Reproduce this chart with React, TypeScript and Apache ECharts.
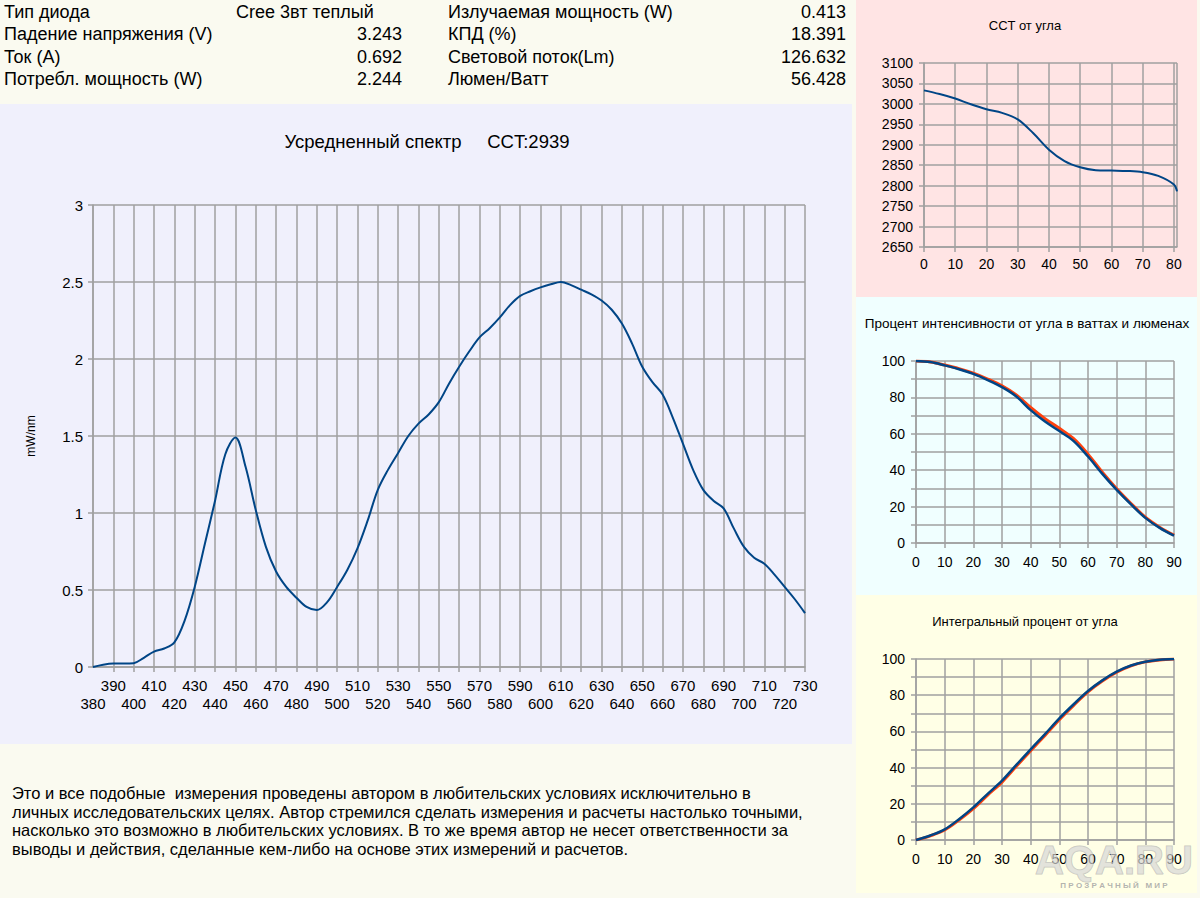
import React, { useEffect, useRef } from "react";
import * as echarts from "echarts";

// ---------- data ----------
const wavelengths = [
  380, 385, 390, 395, 400, 405, 410, 415, 420, 425, 430, 435, 440, 445, 450, 455, 460, 465, 470, 475,
  480, 485, 490, 495, 500, 505, 510, 515, 520, 525, 530, 535, 540, 545, 550, 555, 560, 565, 570, 575,
  580, 585, 590, 595, 600, 605, 610, 615, 620, 625, 630, 635, 640, 645, 650, 655, 660, 665, 670, 675,
  680, 685, 690, 695, 700, 705, 710, 715, 720, 725, 730,
];
const spectrum = [
  0.0, 0.015, 0.022, 0.022, 0.025, 0.06, 0.1, 0.12, 0.16, 0.3, 0.52, 0.8, 1.08, 1.38, 1.49, 1.3, 1.02, 0.78, 0.62, 0.52,
  0.45, 0.39, 0.37, 0.42, 0.52, 0.63, 0.77, 0.95, 1.15, 1.28, 1.39, 1.5, 1.58, 1.64, 1.72, 1.84, 1.95, 2.05, 2.14, 2.2,
  2.27, 2.35, 2.41, 2.44, 2.465, 2.485, 2.5, 2.48, 2.45, 2.42, 2.38, 2.32, 2.23, 2.1, 1.95, 1.85, 1.77, 1.62, 1.45, 1.28,
  1.15, 1.08, 1.03, 0.9, 0.78, 0.71, 0.67, 0.6, 0.52, 0.44, 0.35,
];

const cctAngles = [0, 5, 10, 15, 20, 25, 30, 35, 40, 45, 50, 55, 60, 65, 70, 75, 80, 81];
const cctValues = [3033, 3024, 3013, 2999, 2987, 2978, 2962, 2928, 2888, 2860, 2845, 2838, 2837, 2836, 2833, 2824, 2803, 2786];

const angles = [0, 5, 10, 15, 20, 25, 30, 35, 40, 45, 50, 55, 60, 65, 70, 75, 80, 85, 90];
const intensityWatts = [100, 99.4, 97.6, 95.5, 92.9, 89.5, 85.6, 80.5, 73.0, 66.7, 61.5, 56.0, 47.5, 38.0, 29.2, 21.2, 13.8, 8.3, 4.0];
const intensityLumens = [100, 99.5, 97.8, 95.8, 93.3, 90.1, 86.4, 81.4, 74.5, 68.3, 63.0, 57.3, 48.8, 38.9, 29.8, 21.7, 14.2, 8.7, 4.3];
const integralWatts = [0, 2.5, 5.9, 11.5, 18.0, 25.5, 32.8, 41.5, 50.1, 58.5, 67.2, 75.0, 82.3, 88.2, 93.0, 96.4, 98.5, 99.6, 100];
const integralLumens = [0, 2.3, 5.5, 11.0, 17.3, 24.8, 32.0, 40.7, 49.3, 57.8, 66.5, 74.4, 81.8, 87.8, 92.7, 96.2, 98.4, 99.5, 100];

const infoLeftLabels = ["Тип диода", "Падение напряжения (V)", "Ток (A)", "Потребл. мощность (W)"];
const infoLeftValues = ["Cree 3вт теплый", "3.243", "0.692", "2.244"];
const infoRightLabels = ["Излучаемая мощность (W)", "КПД (%)", "Световой поток(Lm)", "Люмен/Ватт"];
const infoRightValues = ["0.413", "18.391", "126.632", "56.428"];

const disclaimerLines = [
  "Это и все подобные  измерения проведены автором в любительских условиях исключительно в",
  "личных исследовательских целях. Автор стремился сделать измерения и расчеты настолько точными,",
  "насколько это возможно в любительских условиях. В то же время автор не несет ответственности за",
  "выводы и действия, сделанные кем-либо на основе этих измерений и расчетов.",
];

const mainTitle = "Усредненный спектр     CCT:2939";
const cctTitle = "CCT от угла";
const intensityTitle = "Процент интенсивности от угла в ваттах и люменах";
const integralTitle = "Интегральный процент от угла";

// ---------- styles ----------
const FONT = "'Liberation Sans', Arial, sans-serif";
const GRID = "#a0a0a0";
const BLUE = "#004586";
const RED = "#ff420e";

function axisStyle(fontSize: number, margin: number, tickLen: number, formatter?: any) {
  return {
    axisLine: { show: true, onZero: false, lineStyle: { color: GRID, width: 1.5 } },
    axisTick: { show: true, length: tickLen, lineStyle: { color: GRID, width: 1.5 } },
    splitLine: { show: true, lineStyle: { color: GRID, width: 1.5 } },
    axisLabel: {
      color: "#000",
      fontSize,
      fontFamily: FONT,
      margin,
      showMinLabel: true,
      formatter: formatter || ((v: number) => String(v)),
    },
  };
}

function zip(xs: number[], ys: number[]) {
  return xs.map((x, i) => [x, ys[i]]);
}

export default function App() {
  const ref = useRef<HTMLDivElement>(null);

  useEffect(() => {
    document.body.style.margin = "0";
    if (!ref.current) return;
    const chart = echarts.init(ref.current, undefined, { renderer: "svg" });

    const graphics: any[] = [
      { type: "rect", z: -10, silent: true, shape: { x: 0, y: 104, width: 852, height: 640 }, style: { fill: "#f0f0fc" } },
      { type: "rect", z: -10, silent: true, shape: { x: 856, y: 0, width: 341, height: 297 }, style: { fill: "#ffe4e4" } },
      { type: "rect", z: -10, silent: true, shape: { x: 856, y: 297, width: 341, height: 298 }, style: { fill: "#f0ffff" } },
      { type: "rect", z: -10, silent: true, shape: { x: 856, y: 595, width: 341, height: 298 }, style: { fill: "#ffffe6" } },
    ];

    const rowY = [12, 34, 57, 79];
    const txt = (text: string, x: number, y: number, align: string, size: number, extra: any = {}) => ({
      type: "text",
      x,
      y,
      style: { text, fill: "#000", font: `${size}px ${FONT}`, textAlign: align, textVerticalAlign: "middle", ...extra },
    });
    rowY.forEach((y, i) => {
      graphics.push(txt(infoLeftLabels[i], 4, y, "left", 18));
      if (i === 0) graphics.push(txt(infoLeftValues[i], 236, y, "left", 18));
      else graphics.push(txt(infoLeftValues[i], 402, y, "right", 18));
      graphics.push(txt(infoRightLabels[i], 448, y, "left", 18));
      graphics.push(txt(infoRightValues[i], 846, y, "right", 18));
    });
    disclaimerLines.forEach((line, i) => {
      graphics.push(txt(line, 12, 793 + i * 18.7, "left", 16.5));
    });
    graphics.push(txt(mainTitle, 427, 141, "center", 18.5));
    graphics.push(txt(cctTitle, 1025, 25, "center", 13));
    graphics.push(txt(intensityTitle, 1027, 323, "center", 13.5));
    graphics.push(txt(integralTitle, 1025, 621, "center", 13));
    // watermark
    graphics.push({
      type: "text",
      z: 1,
      x: 1114,
      y: 860,
      style: {
        text: "AQA.RU",
        font: `bold 40px ${FONT}`,
        fill: "rgba(215,215,215,0.7)",
        stroke: "rgba(150,150,150,0.55)",
        lineWidth: 1,
        textAlign: "center",
        textVerticalAlign: "middle",
      },
    });
    graphics.push({
      type: "text",
      z: 1,
      x: 1114,
      y: 885,
      style: {
        text: "П Р О З Р А Ч Н Ы Й   М И Р",
        font: `bold 8px ${FONT}`,
        fill: "rgba(160,160,160,0.8)",
        textAlign: "center",
        textVerticalAlign: "middle",
      },
    });

    const hundredFmt = (v: number) => (v % 20 === 0 ? String(v) : "");
    const oddFmt = (v: number) => (Math.round(v) % 20 === 10 ? String(v) : "");
    const evenFmt = (v: number) => (Math.round(v) % 20 === 0 ? String(v) : "");

    const option: any = {
      animation: false,
      backgroundColor: "#fafaf0",
      graphic: graphics,
      grid: [
        { left: 93, top: 205, width: 712, height: 462 },
        { left: 924, top: 63, width: 253, height: 184 },
        { left: 916, top: 361, width: 258, height: 182 },
        { left: 916, top: 659, width: 258, height: 181 },
      ],
      xAxis: [
        {
          gridIndex: 0,
          type: "value",
          position: "bottom",
          min: 380,
          max: 730,
          interval: 10,
          ...axisStyle(15, 11, 5),
          axisLabel: { color: "#000", fontSize: 15, fontFamily: FONT, margin: 11, showMinLabel: false, showMaxLabel: true, formatter: oddFmt },
        },
        {
          gridIndex: 1,
          type: "value",
          min: 0,
          max: 81,
          interval: 10,
          ...axisStyle(14, 10, 5),
          axisLabel: { color: "#000", fontSize: 14, fontFamily: FONT, margin: 10, showMinLabel: true, showMaxLabel: false, formatter: (v: number) => String(v) },
        },
        { gridIndex: 2, type: "value", min: 0, max: 90, interval: 10, ...axisStyle(14, 12, 5) },
        { gridIndex: 3, type: "value", min: 0, max: 90, interval: 10, ...axisStyle(14, 12, 5) },
        {
          gridIndex: 0,
          type: "value",
          position: "bottom",
          min: 380,
          max: 730,
          interval: 10,
          axisLine: { show: false },
          axisTick: { show: false },
          splitLine: { show: false },
          axisLabel: { color: "#000", fontSize: 15, fontFamily: FONT, margin: 29, showMinLabel: true, showMaxLabel: false, formatter: evenFmt },
        },
      ],
      yAxis: [
        {
          gridIndex: 0,
          type: "value",
          min: 0,
          max: 3,
          interval: 0.5,
          ...axisStyle(15, 10, 5),
          name: "mW/nm",
          nameLocation: "middle",
          nameRotate: 90,
          nameGap: 56,
          nameTextStyle: { color: "#000", fontSize: 12, fontFamily: FONT },
        },
        { gridIndex: 1, type: "value", min: 2650, max: 3100, interval: 50, ...axisStyle(14, 11, 5) },
        { gridIndex: 2, type: "value", min: 0, max: 100, interval: 10, ...axisStyle(14, 11, 5, hundredFmt) },
        { gridIndex: 3, type: "value", min: 0, max: 100, interval: 10, ...axisStyle(14, 11, 5, hundredFmt) },
      ],
      series: [
        { type: "line", xAxisIndex: 0, yAxisIndex: 0, data: zip(wavelengths, spectrum), smooth: 0.35, showSymbol: false, lineStyle: { color: BLUE, width: 2 } },
        { type: "line", xAxisIndex: 1, yAxisIndex: 1, data: zip(cctAngles, cctValues), smooth: 0.35, showSymbol: false, lineStyle: { color: BLUE, width: 2 } },
        { type: "line", xAxisIndex: 2, yAxisIndex: 2, data: zip(angles, intensityLumens), smooth: 0.35, showSymbol: false, lineStyle: { color: RED, width: 3 } },
        { type: "line", xAxisIndex: 2, yAxisIndex: 2, data: zip(angles, intensityWatts), smooth: 0.35, showSymbol: false, lineStyle: { color: BLUE, width: 2.5 } },
        { type: "line", xAxisIndex: 3, yAxisIndex: 3, data: zip(angles, integralLumens), smooth: 0.35, showSymbol: false, lineStyle: { color: RED, width: 3 } },
        { type: "line", xAxisIndex: 3, yAxisIndex: 3, data: zip(angles, integralWatts), smooth: 0.35, showSymbol: false, lineStyle: { color: BLUE, width: 2.5 } },
      ],
    };
    chart.setOption(option);
    return () => chart.dispose();
  }, []);

  return <div ref={ref} style={{ width: 1200, height: 898 }} />;
}
